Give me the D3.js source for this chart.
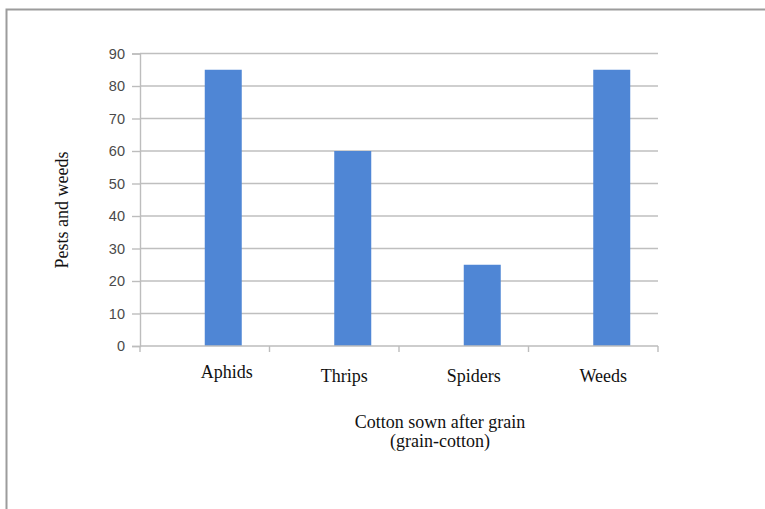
<!DOCTYPE html>
<html>
<head>
<meta charset="utf-8">
<script src="https://cdn.jsdelivr.net/npm/d3@7/dist/d3.min.js"></script>
<style>
  html, body { margin: 0; padding: 0; background: #fff; }
  svg { display: block; }
</style>
</head>
<body>
<div id="chart"></div>
<script>
// Pest and weed counts for cotton sown after grain
const categories = ["Aphids", "Thrips", "Spiders", "Weeds"];
const values = [85, 60, 25, 85];
const yTicks = [0, 10, 20, 30, 40, 50, 60, 70, 80, 90];
const yTitle = "Pests and weeds";
const xTitleLines = ["Cotton sown after grain", "(grain-cotton)"];

const width = 765, height = 509;
const plot = { left: 140, right: 658, top: 53.5, bottom: 346 };
const serif = "'Liberation Serif', 'Times New Roman', serif";

const svg = d3.select("#chart").append("svg")
  .attr("width", width).attr("height", height);

// outer frame (top and left edges)
svg.append("path")
  .attr("d", `M6.5,${height} V9.5 H${width}`)
  .attr("fill", "none").attr("stroke", "#9c9c9c").attr("stroke-width", 2);

const x = d3.scaleBand().domain(categories)
  .range([plot.left, plot.right]).padding(0);
const y = d3.scaleLinear().domain([0, 90]).range([plot.bottom, plot.top]);

// horizontal gridlines
svg.append("g")
  .selectAll("line").data(yTicks.filter(d => d > 0)).join("line")
  .attr("x1", plot.left).attr("x2", plot.right)
  .attr("y1", d => y(d)).attr("y2", d => y(d))
  .attr("stroke", "#bfbfbf").attr("stroke-width", 1.4);

// y axis
const yAxis = svg.append("g")
  .attr("transform", `translate(${plot.left},0)`)
  .call(d3.axisLeft(y).tickValues(yTicks).tickSize(8).tickPadding(7));
yAxis.select(".domain").attr("stroke", "#bdbdbd").attr("stroke-width", 1.4);
yAxis.selectAll(".tick line").attr("stroke", "#bdbdbd").attr("stroke-width", 1.4);
yAxis.selectAll(".tick text")
  .attr("fill", "#4a4a4a").attr("font-family", "'Liberation Sans', Arial, sans-serif")
  .attr("font-size", 14.5);

// bars sit on the right half of each category slot
const barW = x.bandwidth() / 3.5;
svg.append("g")
  .selectAll("rect").data(values).join("rect")
  .attr("x", (d, i) => x(categories[i]) + x.bandwidth() / 2)
  .attr("y", d => y(d))
  .attr("width", barW)
  .attr("height", d => y(0) - y(d))
  .attr("fill", "#4f86d5");

// x axis with tick marks at category boundaries
const xAxisG = svg.append("g").attr("transform", `translate(0,${plot.bottom})`);
xAxisG.append("line")
  .attr("x1", plot.left).attr("x2", plot.right)
  .attr("stroke", "#bdbdbd").attr("stroke-width", 1.4);
const bounds = categories.map(c => x(c)).concat([plot.right]);
xAxisG.selectAll("line.tk").data(bounds).join("line").attr("class", "tk")
  .attr("x1", d => d).attr("x2", d => d).attr("y1", 0).attr("y2", 6)
  .attr("stroke", "#bdbdbd").attr("stroke-width", 1.4);

// category labels
svg.append("g")
  .selectAll("text").data(categories).join("text")
  .attr("x", (d, i) => x(d) + x.bandwidth() / 2 + (i === 0 ? 22 : 10))
  .attr("y", (d, i) => i === 0 ? 378 : 382)
  .attr("text-anchor", "middle")
  .attr("font-family", serif)
  .attr("font-size", 18).attr("fill", "#111")
  .text(d => d);

// x axis title
svg.append("g")
  .selectAll("text").data(xTitleLines).join("text")
  .attr("x", 440).attr("y", (d, i) => 428 + i * 19)
  .attr("text-anchor", "middle")
  .attr("font-family", serif)
  .attr("font-size", 18).attr("fill", "#111")
  .text(d => d);

// y axis title
svg.append("text")
  .attr("transform", `translate(68,210) rotate(-90)`)
  .attr("text-anchor", "middle")
  .attr("font-family", serif)
  .attr("font-size", 18).attr("fill", "#111")
  .text(yTitle);
</script>
</body>
</html>
